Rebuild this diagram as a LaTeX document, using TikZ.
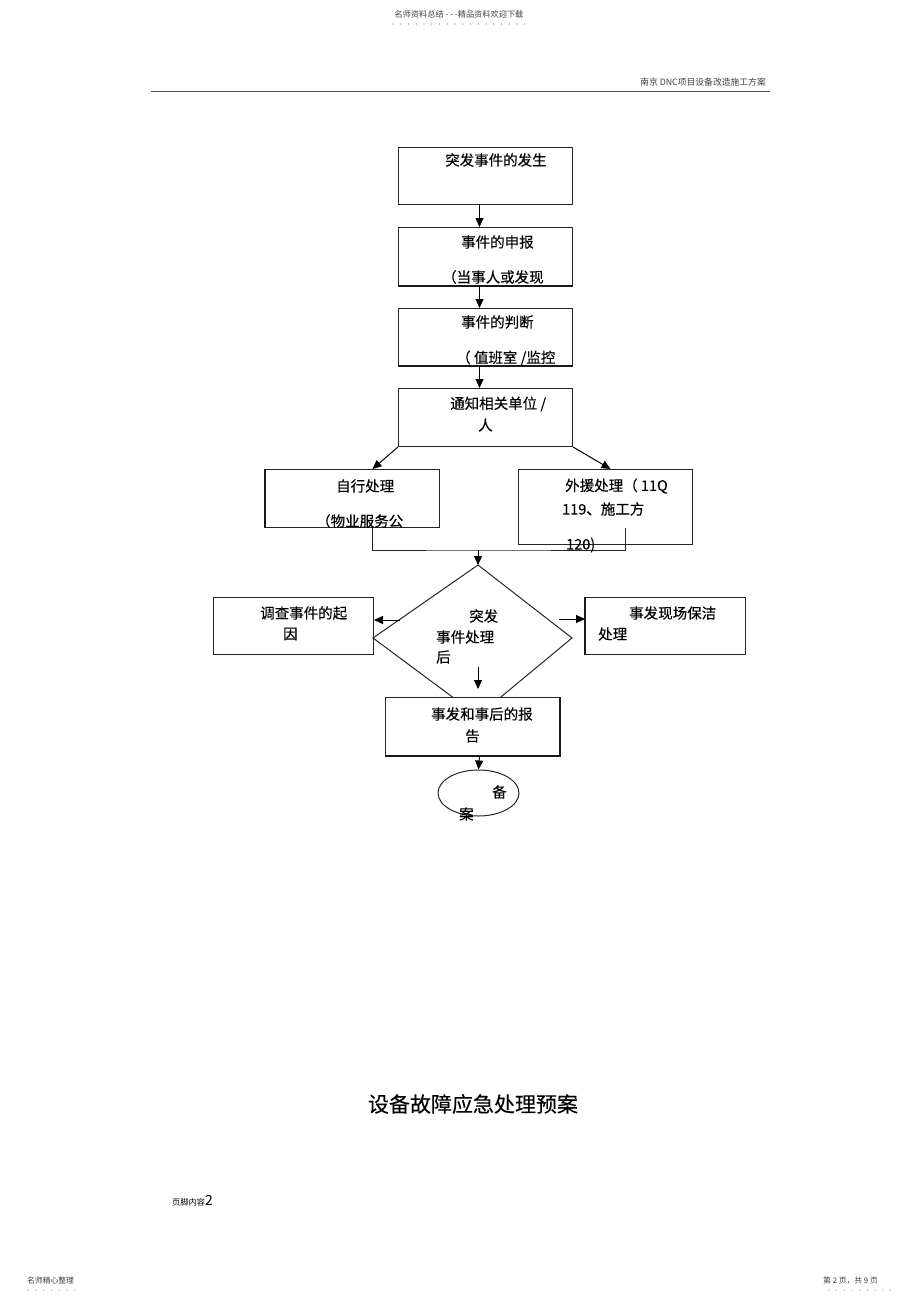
\documentclass[tikz,border=0pt]{standalone}
\usepackage{fontspec}
\setmainfont{Noto Sans CJK SC}
\newfontfamily\lblfont{Noto Sans CJK SC}[FakeBold=0.2]
\usetikzlibrary{arrows.meta,shapes.geometric,calc}
\newcommand\myfs[1]{\fontsize{#1}{#1}\selectfont}
\begin{document}
\begin{tikzpicture}[x=1pt,y=-1pt,
  box/.style={draw=black!85, line width=1pt, fill=white, rectangle, inner sep=0pt, anchor=north west},
  lbl/.style={inner sep=0pt, anchor=west, font=\lblfont\myfs{14.5}},
  arr/.style={-{Triangle[length=9pt,width=8pt]}, line width=1pt, draw=black},
  ln/.style={line width=1pt, draw=black!85},
  thick edge/.style={line width=2pt, draw=black!90},
  small/.style={inner sep=0pt, text=black!75}]
\useasboundingbox (0,0) rectangle (920,1303);

% header
\node[small, font=\myfs{8.2}] (h1) at (459,14) {名师资料总结 - - -精品资料欢迎下载};
\foreach \i in {0,...,17} \fill[black!55] (393+\i*7.75,24) circle (0.55pt);
\node[small, font=\myfs{8.8}, anchor=east] (h2) at (766,82) {南京 DNC项目设备改造施工方案};
\draw[line width=0.9pt, black!70] (151,91.5) -- (770,91.5);

% boxes
\node[box, minimum width=174pt, minimum height=57pt] (b1) at (398,147) {};
\node[box, minimum width=174pt, minimum height=58pt] (b2) at (398,227) {};
\node[box, minimum width=174pt, minimum height=57pt] (b3) at (398,308) {};
\node[box, minimum width=174pt, minimum height=58pt] (b4) at (398,388) {};
\node[box, minimum width=174pt, minimum height=58pt] (b5) at (265,469) {};
\node[box, minimum width=174pt, minimum height=75pt] (b6) at (518,469) {};
\node[box, minimum width=160pt, minimum height=57pt] (b8) at (213,597) {};
\node[box, minimum width=160pt, minimum height=57pt] (b9) at (585,597) {};

% decision diamond (drawn from its corners)
\coordinate (dT) at (478,565);
\coordinate (dL) at (373,638);
\coordinate (dR) at (572,638);
\coordinate (dB) at (478,716);
\draw[line width=1pt, draw=black!85] (dT) -- (dR) -- (dB) -- (dL) -- cycle;

\node[box, minimum width=174pt, minimum height=58pt] (b7) at (385,697) {};
\node[draw=black!85, line width=1pt, ellipse, minimum width=81pt, minimum height=46pt, inner sep=0pt] (e) at (478.5,793) {};

% thicker edges
\draw[thick edge] (b2.south west) -- (b2.south east);
\draw[thick edge] (b3.south west) -- (b3.south east);
\draw[thick edge] (b5.south west) -- (b5.north west);
\draw[thick edge] (b9.south west) -- (b9.north west);
\draw[thick edge] (b7.south west) -- (b7.south east) -- (b7.north east);

% connectors
\draw[arr] ([xshift=-6pt]b1.south) -- ([xshift=-6pt]b2.north);
\draw[arr] ([xshift=-6pt]b2.south) -- ([xshift=-6pt]b3.north);
\draw[arr] ([xshift=-6pt]b3.south) -- ([xshift=-6pt]b4.north);
\draw[arr] (b4.south west) -- ([xshift=20pt]b5.north);
\draw[arr] (b4.south east) -- ([xshift=5pt]b6.north);
\coordinate (m) at (478,550);
\coordinate (m2) at (625,528);
\draw[ln] ([xshift=20pt]b5.south) |- (m) -| (m2);
\draw[arr] (m) -- (dT);
\coordinate (dl) at (400,620);
\draw[arr] (dl) -- (dl -| b8.east);
\coordinate (dr) at (559,619);
\draw[arr] (dr) -- (dr -| b9.west);
\coordinate (di) at (478,667);
\coordinate (di2) at (478,689);
\draw[arr] (di) -- (di2);
\draw[arr] ([xshift=7pt]b7.south) -- (e.north);

% labels
\node[lbl] (t1) at (445,160) {突发事件的发生};
\node[lbl] (t2a) at (461,242) {事件的申报};
\node[lbl] (t2b) at (442,277) {（当事人或发现};
\node[lbl] (t3a) at (461,322) {事件的判断};
\node[lbl] (t3b) at (456,358) {（ 值班室 /监控};
\node[lbl] (t4a) at (450,404) {通知相关单位 /};
\node[lbl] (t4b) at (478,425) {人};
\node[lbl] (t5a) at (336,486) {自行处理};
\node[lbl] (t5b) at (316,521) {（物业服务公};
\node[lbl] (t6a) at (565,486) {外援处理（ 11Q};
\node[lbl] (t6b) at (562,509) {119、施工方};
\node[lbl] (t6c) at (566,545) {120)};
\node[lbl] (t8a) at (260,613) {调查事件的起};
\node[lbl] (t8b) at (283,634) {因};
\node[lbl] (t9a) at (629,613) {事发现场保洁};
\node[lbl] (t9b) at (598,634) {处理};
\node[lbl] (tda) at (469,616) {突发};
\node[lbl] (tdb) at (436,637) {事件处理};
\node[lbl] (tdc) at (436,657) {后};
\node[lbl] (t7a) at (431,714) {事发和事后的报};
\node[lbl] (t7b) at (465,736) {告};
\node[lbl] (tea) at (492,792) {备};
\node[lbl] (teb) at (459,814) {案};

% title
\node[inner sep=0pt, font=\lblfont\myfs{21}] (title) at (473,1104) {设备故障应急处理预案};

% footer
\node[inner sep=0pt, anchor=base west] (f1) at (172,1205) {\myfs{8.2}页脚内容\myfs{14}2};
\node[small, font=\myfs{7.8}, anchor=west] (f2) at (27,1281) {名师精心整理};
\foreach \i in {0,...,6} \fill[black!55] (28+\i*7.8,1290) circle (0.55pt);
\node[small, font=\myfs{7.8}, anchor=west] (f3) at (823,1281) {第 2 页，共 9 页};
\foreach \i in {0,...,8} \fill[black!55] (829+\i*7.7,1290) circle (0.55pt);
\end{tikzpicture}
\end{document}
